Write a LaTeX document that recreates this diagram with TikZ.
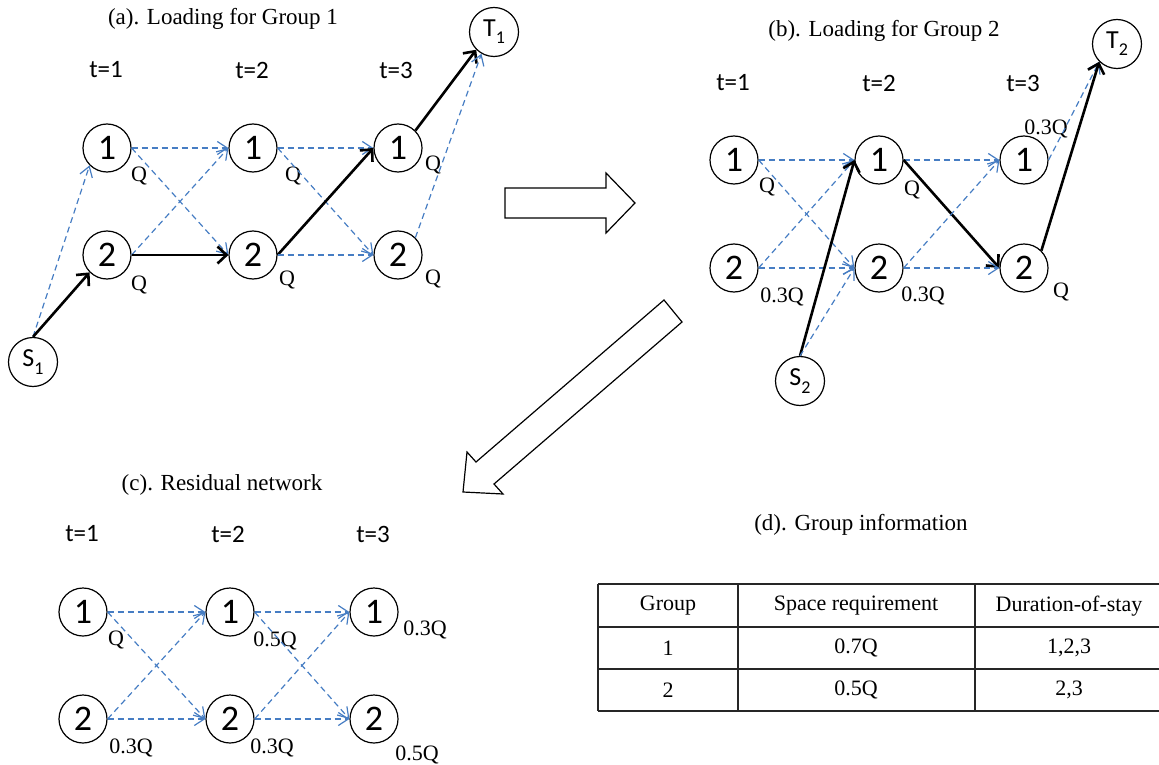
\documentclass[tikz,border=0pt]{standalone}
\usepackage{fontspec}
\setmainfont{Liberation Serif}
\newfontfamily\calib{Carlito}
\usetikzlibrary{arrows.meta}
\definecolor{flowblue}{RGB}{70,125,195}
\tikzset{
  stnode/.style={circle, draw, line width=1.2pt, minimum size=48pt, inner sep=0pt, font=\calib\fontsize{36}{36}\selectfont},
  endnode/.style={circle, draw, line width=1.2pt, minimum size=49pt, inner sep=0pt, font=\calib\fontsize{26}{26}\selectfont},
  tlab/.style={font=\calib\fontsize{25}{25}\selectfont, inner sep=0pt},
  qlab/.style={font=\fontsize{22}{22}\selectfont, inner sep=0pt, text height=15pt, text depth=0pt},
  ttl/.style={font=\fontsize{23}{23}\selectfont, inner sep=0pt},
  cell/.style={font=\fontsize{22}{22}\selectfont, inner sep=0pt},
  flowdash/.style={draw=flowblue, line width=1.2pt, dash pattern=on 6pt off 4pt, -{Straight Barb[length=10pt,width=13pt]}},
  flowsolid/.style={draw=black, line width=2.6pt, -{Straight Barb[length=9pt,width=17pt]}},
  bigarrow/.style={draw=black, line width=1.2pt, fill=white, line join=miter},
  tabline/.style={draw=black!85, line width=1.3pt},
}
\newcommand{\subn}[2]{#1\raisebox{-0.28em}{\fontsize{18}{18}\selectfont #2}}
\begin{document}
\begin{tikzpicture}[x=1pt,y=-1pt]
\useasboundingbox (0,0) rectangle (1159,765);

% ---------------- (a) ----------------
\node[ttl] (ta) at (223,19) {(a). Loading for Group 1};
\node[tlab] (at1) at (106,70) {t=1};
\node[tlab] (at2) at (252,70) {t=2};
\node[tlab] (at3) at (396,70) {t=3};
\node[stnode] (a11) at (107,148) {1};
\node[stnode] (a12) at (253,148) {1};
\node[stnode] (a13) at (398,148) {1};
\node[stnode] (a21) at (107,255) {2};
\node[stnode] (a22) at (253,255) {2};
\node[stnode] (a23) at (398,255) {2};
\node[endnode] (S1) at (33,362) {\subn{S}{1}};
\node[endnode] (T1) at (494,32) {\subn{T}{1}};
\node[qlab] (qa11) at (139,174) {Q};
\node[qlab] (qa12) at (293,174) {Q};
\node[qlab] (qa13) at (433,163) {Q};
\node[qlab] (qa21) at (139,283) {Q};
\node[qlab] (qa22) at (287,278) {Q};
\node[qlab] (qa23) at (433,277) {Q};

\draw[flowdash] (S1.north) -- (a11.south west);
\draw[flowsolid] (S1.north) -- (a21.south west);
\draw[flowdash] (a11.east) -- (a12.west);
\draw[flowdash] (a11.east) -- (a22.west);
\draw[flowdash] (a21.east) -- (a12.west);
\draw[flowsolid] (a21.east) -- (a22.west);
\draw[flowdash] (a12.east) -- (a13.west);
\draw[flowdash] (a12.east) -- (a23.west);
\draw[flowsolid] (a22.east) -- (a13.west);
\draw[flowdash] (a22.east) -- (a23.west);
\draw[flowsolid] (a13.north east) -- (T1.south west);
\draw[flowdash] (a23.north east) -- (T1.240);

% ---------------- (b) ----------------
\node[ttl] (tb) at (884,31) {(b). Loading for Group 2};
\node[tlab] (bt1) at (733,83) {t=1};
\node[tlab] (bt2) at (879,83) {t=2};
\node[tlab] (bt3) at (1023,83) {t=3};
\node[stnode] (b11) at (734,160) {1};
\node[stnode] (b12) at (879,160) {1};
\node[stnode] (b13) at (1024,160) {1};
\node[stnode] (b21) at (734,268) {2};
\node[stnode] (b22) at (879,268) {2};
\node[stnode] (b23) at (1024,268) {2};
\node[endnode] (S2) at (800,381) {\subn{S}{2}};
\node[endnode] (T2) at (1117,44) {\subn{T}{2}};
\node[qlab] (qb11) at (767,185) {Q};
\node[qlab] (qb12) at (912,188) {Q};
\node[qlab] (qb13) at (1046,127) {0.3Q};
\node[qlab] (qb21) at (782,295) {0.3Q};
\node[qlab] (qb22) at (923,294) {0.3Q};
\node[qlab] (qb23) at (1061,290) {Q};

\draw[flowdash] (b11.east) -- (b12.west);
\draw[flowdash] (b11.east) -- (b22.west);
\draw[flowdash] (b21.east) -- (b12.west);
\draw[flowdash] (b21.east) -- (b22.west);
\draw[flowsolid] (S2.north) -- (b12.west);
\draw[flowdash] (S2.north) -- (b22.west);
\draw[flowdash] (b12.east) -- (b13.west);
\draw[flowsolid] (b12.east) -- (b23.west);
\draw[flowdash] (b22.east) -- (b13.west);
\draw[flowdash] (b22.east) -- (b23.west);
\draw[flowdash] (b13.east) -- (T2.south west);
\draw[flowsolid] (b23.north east) -- (T2.south west);

% ---------------- (c) ----------------
\node[ttl] (tc) at (222,485) {(c). Residual network};
\node[tlab] (ct1) at (82,534) {t=1};
\node[tlab] (ct2) at (228,534) {t=2};
\node[tlab] (ct3) at (373,534) {t=3};
\node[stnode] (c11) at (83,612) {1};
\node[stnode] (c12) at (230,612) {1};
\node[stnode] (c13) at (374,612) {1};
\node[stnode] (c21) at (83,719) {2};
\node[stnode] (c22) at (230,719) {2};
\node[stnode] (c23) at (374,719) {2};
\node[qlab] (qc11) at (116,638) {Q};
\node[qlab] (qc12) at (275,639) {0.5Q};
\node[qlab] (qc13) at (425,628) {0.3Q};
\node[qlab] (qc21) at (131,746) {0.3Q};
\node[qlab] (qc22) at (272,746) {0.3Q};
\node[qlab] (qc23) at (417,753) {0.5Q};

\draw[flowdash] (c11.east) -- (c12.west);
\draw[flowdash] (c11.east) -- (c22.west);
\draw[flowdash] (c21.east) -- (c12.west);
\draw[flowdash] (c21.east) -- (c22.west);
\draw[flowdash] (c12.east) -- (c13.west);
\draw[flowdash] (c12.east) -- (c23.west);
\draw[flowdash] (c22.east) -- (c13.west);
\draw[flowdash] (c22.east) -- (c23.west);

% ---------------- big hollow arrows ----------------
\draw[bigarrow] (505,188) -- (606,188) -- (606,173) -- (635,203) -- (606,233) -- (606,218) -- (505,218) -- cycle;
\draw[bigarrow] (664,300) -- (682,322) -- (494,484) -- (503,494) -- (463,492) -- (467,452) -- (476,462) -- cycle;

% ---------------- (d) table ----------------
\node[ttl] (td) at (861,525) {(d). Group information};
\foreach \yy in {584,627,669,711} \draw[tabline] (598,\yy) -- (1159,\yy);
\foreach \xx in {598,738,975} \draw[tabline] (\xx,584) -- (\xx,711);
\node[cell] (h1) at (668,606) {Group};
\node[cell] (h2) at (856,606) {Space requirement};
\node[cell] (h3) at (1069,606) {Duration-of-stay};
\node[cell] (r11) at (668,648) {1};
\node[cell] (r12) at (856,648) {0.7Q};
\node[cell] (r13) at (1069,648) {1,2,3};
\node[cell] (r21) at (668,690) {2};
\node[cell] (r22) at (856,690) {0.5Q};
\node[cell] (r23) at (1069,690) {2,3};
\end{tikzpicture}
\end{document}
